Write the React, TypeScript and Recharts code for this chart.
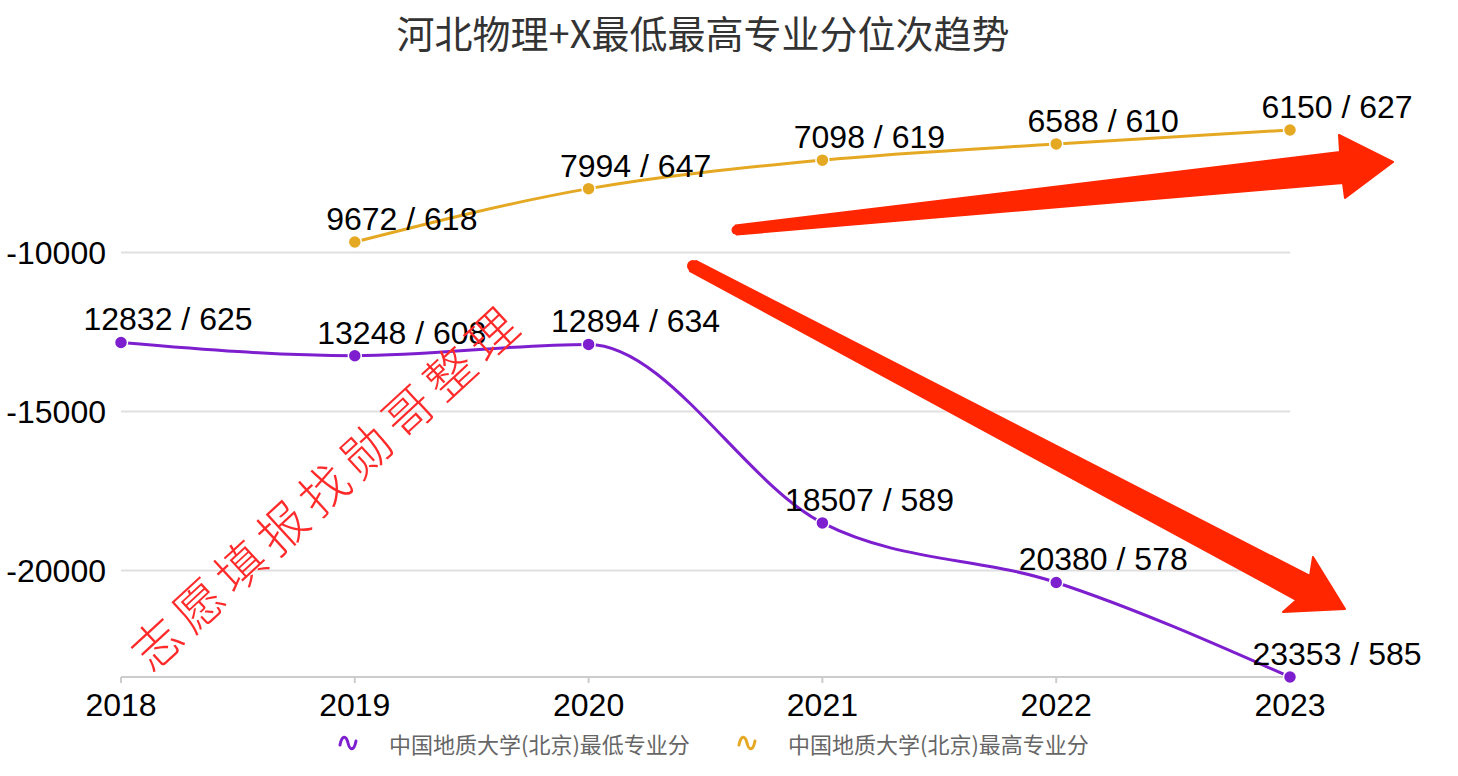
import { CartesianGrid, LabelList, Line, LineChart, XAxis, YAxis } from "recharts"

const years = ["2018", "2019", "2020", "2021", "2022", "2023"]
const minRank = [12832, 13248, 12894, 18507, 20380, 23353]
const minScore = [625, 608, 634, 589, 578, 585]
const maxRank = [null, 9672, 7994, 7098, 6588, 6150]
const maxScore = [null, 618, 647, 619, 610, 627]
const yTicks = [-10000, -15000, -20000]

const PURPLE = "#7d1fcf"
const GOLD = "#e5a823"
const ARROW = "#ff2600"
const FONT = "'Liberation Sans', Arial, Helvetica, sans-serif"
const CJK = "'Noto Sans CJK SC', 'Noto Sans', sans-serif"

const data = years.map((y, i) => ({
  year: y,
  low: -minRank[i],
  high: maxRank[i] == null ? null : -(maxRank[i] as number),
}))

const makeLabel = (ranks: (number | null)[], scores: (number | null)[]) => (props: any) => {
  const { x, y, index } = props
  if (ranks[index] == null) return null
  return (
    <text x={x + 47} y={y - 12} textAnchor="middle" fontSize={32} fill="#000" fontFamily={FONT}>
      {`${ranks[index]} / ${scores[index]}`}
    </text>
  )
}

const makeDot = (color: string) => (props: any) => {
  const { cx, cy, value } = props
  if (value == null || cx == null || cy == null) return null
  return <circle cx={cx} cy={cy} r={6.5} fill={color} stroke="#fff" strokeWidth={1.5} />
}

function WaveIcon({ color }: { color: string }) {
  return (
    <svg width={20} height={18} style={{ display: "block" }}>
      <path d="M2,11 C4,1 8,1 10,9 C12,17 16,17 18,7" fill="none" stroke={color} strokeWidth={3} strokeLinecap="round" />
    </svg>
  )
}

function LegendItem({ color, text, left }: { color: string; text: string; left: number }) {
  return (
    <div style={{ position: "absolute", left, top: 727, display: "flex", alignItems: "center", gap: 31 }}>
      <WaveIcon color={color} />
      <span style={{ fontFamily: CJK, fontSize: 22, color: "#666", whiteSpace: "nowrap" }}>{text}</span>
    </div>
  )
}

export default function App() {
  return (
    <div style={{ position: "absolute", left: 0, top: 0, width: 1458, height: 776, background: "#fff", fontFamily: FONT }}>
      <div
        style={{
          position: "absolute",
          left: 0,
          width: 1406,
          top: 4,
          textAlign: "center",
          fontFamily: CJK,
          fontSize: 38,
          color: "#333",
        }}
      >
        河北物理+X最低最高专业分位次趋势
      </div>

      <div style={{ position: "absolute", left: 0, top: 0 }}>
        <LineChart width={1458} height={776} data={data} margin={{ top: 130, right: 168, left: 0, bottom: 59 }}>
          <CartesianGrid vertical={false} horizontalValues={yTicks} stroke="#e0e0e0" strokeWidth={2} />
          <XAxis
            dataKey="year"
            height={40}
            axisLine={{ stroke: "#ccc", strokeWidth: 2 }}
            tickLine={{ stroke: "#ccc", strokeWidth: 2 }}
            tickSize={6}
            tickMargin={10}
            tick={{ fontSize: 32, fill: "#000", fontFamily: FONT }}
            interval={0}
          />
          <YAxis
            width={121}
            domain={["dataMin", "dataMax"]}
            ticks={yTicks}
            axisLine={false}
            tickLine={false}
            tickSize={0}
            tickMargin={15}
            tick={{ fontSize: 32, fill: "#000", fontFamily: FONT }}
          />
          <Line
            type="monotone"
            dataKey="low"
            stroke={PURPLE}
            strokeWidth={3}
            dot={makeDot(PURPLE)}
            activeDot={false}
            isAnimationActive={false}
          >
            <LabelList dataKey="low" content={makeLabel(minRank, minScore)} />
          </Line>
          <Line
            type="monotone"
            dataKey="high"
            stroke={GOLD}
            strokeWidth={3}
            dot={makeDot(GOLD)}
            activeDot={false}
            isAnimationActive={false}
          >
            <LabelList dataKey="high" content={makeLabel(maxRank, maxScore)} />
          </Line>
        </LineChart>
      </div>

      <svg width={1458} height={776} style={{ position: "absolute", left: 0, top: 0, pointerEvents: "none" }}>
        {/* annotation arrows */}
        <polygon
          points="735.5,225.5 1340,152 1339,135 1393,162 1345,198 1343,183 736.5,234.5"
          fill={ARROW}
          stroke={ARROW}
          strokeWidth={2}
          strokeLinejoin="round"
        />
        <circle cx={736} cy={230} r={4.5} fill={ARROW} />
        <polygon
          points="696,261 1310,576 1313,557 1345,609 1283,612 1296.5,600 690,271"
          fill={ARROW}
          stroke={ARROW}
          strokeWidth={2}
          strokeLinejoin="round"
        />
        <circle cx={693} cy={266} r={6} fill={ARROW} />
        {/* watermark */}
        <text
          x={325}
          y={484}
          transform="rotate(-42.7 325 484)"
          textAnchor="middle"
          dominantBaseline="central"
          fontFamily={CJK}
          fontSize={49}
          fontWeight={300}
          letterSpacing={8}
          fill="#ff2a2a"
        >
          志愿填报找勋哥整理
        </text>
      </svg>

      <LegendItem color={PURPLE} text="中国地质大学(北京)最低专业分" left={338} />
      <LegendItem color={GOLD} text="中国地质大学(北京)最高专业分" left={737} />
    </div>
  )
}
